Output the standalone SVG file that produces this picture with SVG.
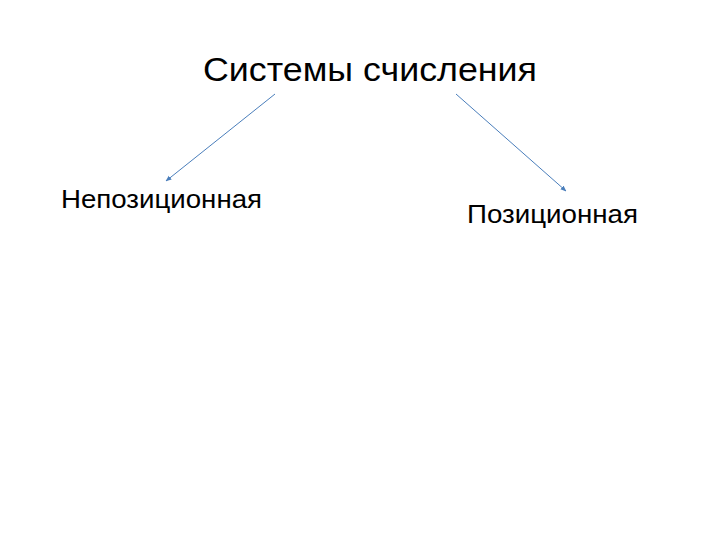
<svg xmlns="http://www.w3.org/2000/svg" width="720" height="540" viewBox="0 0 720 540">
<style>
text{font-family:"Liberation Sans",Arial,sans-serif;fill:#000}
.t{font-size:33px}
.n{font-size:25px}
.c{stroke:#4a7ebb;stroke-width:1;fill:none;marker-end:url(#ah)}
</style>
<defs>
<marker id="ah" viewBox="0 0 10 10" refX="9" refY="5" markerWidth="6" markerHeight="6" orient="auto" markerUnits="userSpaceOnUse">
<path d="M0,1 L10,5 L0,9 z" fill="#4a7ebb"/>
</marker>
</defs>
<rect width="720" height="540" fill="#fff"/>
<g id="title"><text class="t" x="203" y="81" textLength="334" lengthAdjust="spacingAndGlyphs">Системы счисления</text></g>
<g id="nonpos"><text class="n" x="61" y="208" textLength="201" lengthAdjust="spacingAndGlyphs">Непозиционная</text></g>
<g id="pos"><text class="n" x="467" y="223" textLength="171" lengthAdjust="spacingAndGlyphs">Позиционная</text></g>
<g id="connectors">
<line class="c" x1="275" y1="94" x2="166" y2="181"/>
<line class="c" x1="456" y1="94" x2="566" y2="191"/>
</g>
</svg>
